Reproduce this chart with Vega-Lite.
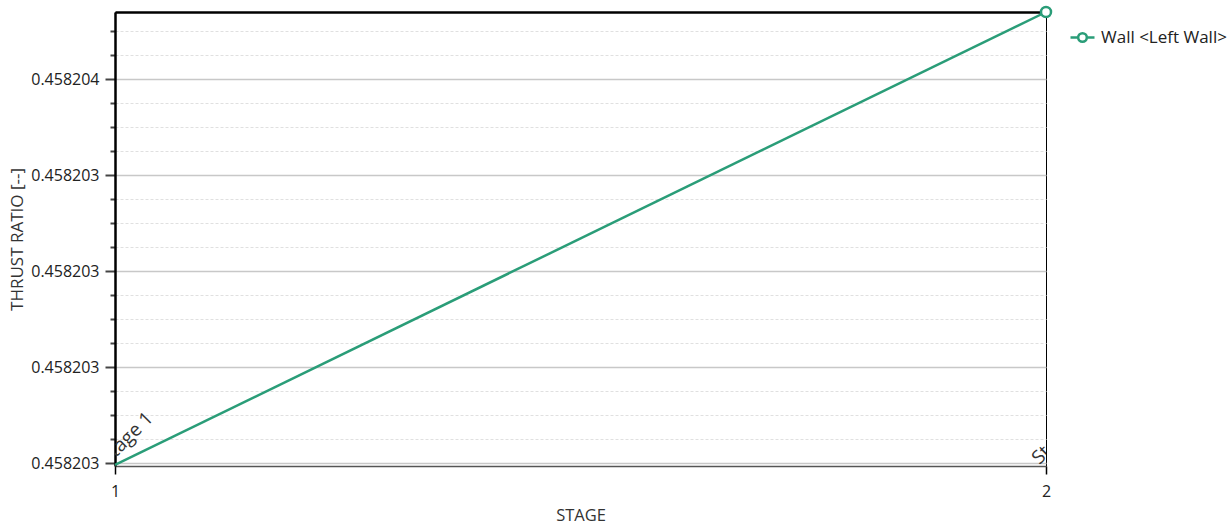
{
  "$schema": "https://vega.github.io/schema/vega-lite/v6.json",
  "width": 931,
  "height": 454,
  "autosize": {"type": "none"},
  "padding": {"left": 115, "top": 12, "right": 186, "bottom": 61},
  "background": "white",
  "config": {"view": {"stroke": "#000", "strokeWidth": 1}, "font": "Open Sans"},
  "datasets": {
    "series": [
      {"stage": 1, "ratio": 0.458203118, "series": "Wall <Left Wall>"},
      {"stage": 2, "ratio": 0.45820359, "series": "Wall <Left Wall>"}
    ],
    "stages": [
      {"stage": 1, "ratio": 0.45820312, "label": "Stage 1"},
      {"stage": 2, "ratio": 0.45820312, "label": "Stage 2"}
    ]
  },
  "encoding": {
    "y": {
      "field": "ratio",
      "type": "quantitative",
      "scale": {"domain": [0.458203116875, 0.45820359], "nice": false, "zero": false},
      "axis": {
        "title": "THRUST RATIO [--]",
        "values": [0.45820312, 0.458203145, 0.45820317, 0.458203195, 0.45820322, 0.458203245, 0.45820327, 0.458203295, 0.45820332, 0.458203345, 0.45820337, 0.458203395, 0.45820342, 0.458203445, 0.45820347, 0.458203495, 0.45820352, 0.458203545, 0.45820357],
        "labelExpr": "round((datum.value-0.45820312)*4e7)%4==0 ? format(datum.value,'.6f') : ''",
        "labelOverlap": false,
        "labelFontSize": 16,
        "labelColor": "#222",
        "labelPadding": 6,
        "tickColor": "#444",
        "tickWidth": 2,
        "tickSize": {"condition": {"test": "round((datum.value-0.45820312)*4e7)%4==0", "value": 10}, "value": 5},
        "grid": true,
        "gridColor": {"condition": {"test": "round((datum.value-0.45820312)*4e7)%4==0", "value": "#c8c8c8"}, "value": "#e0e0e0"},
        "gridDash": {"condition": {"test": "round((datum.value-0.45820312)*4e7)%4==0", "value": []}, "value": [3, 2]},
        "gridWidth": {"condition": {"test": "round((datum.value-0.45820312)*4e7)%4==0", "value": 1.5}, "value": 1},
        "domainColor": "#000",
        "domainWidth": 2.5,
        "titleFontSize": 17,
        "titleFontWeight": "normal",
        "titleColor": "#333",
        "titlePadding": 4
      }
    }
  },
  "layer": [
    {
      "data": {"name": "series"},
      "mark": {"type": "line", "strokeWidth": 2.5},
      "encoding": {
        "x": {
          "field": "stage",
          "type": "quantitative",
          "scale": {"domain": [1, 2], "nice": false, "zero": false},
          "axis": {
            "title": "STAGE",
            "values": [1, 2],
            "format": "d",
            "labelFlush": false,
            "labelFontSize": 16,
            "labelColor": "#222",
            "tickColor": "#000",
            "tickSize": 8,
            "tickWidth": 1.5,
            "labelPadding": 9,
            "domainColor": "#555",
            "domainWidth": 1.5,
            "grid": false,
            "titleFontSize": 16.5,
            "titleFontWeight": "normal",
            "titleColor": "#333",
            "titlePadding": 8
          }
        },
        "color": {
          "field": "series",
          "type": "nominal",
          "scale": {"range": ["#2a9d78"]},
          "legend": {
            "title": null,
            "orient": "none",
            "legendX": 954,
            "legendY": 12,
            "padding": 0,
            "symbolType": "M-1,0H-0.36M0.36,0H1M0.36,0A0.36,0.36,0,1,1,-0.36,0A0.36,0.36,0,1,1,0.36,0",
            "symbolSize": 576,
            "symbolStrokeWidth": 2.5,
            "symbolFillColor": "white",
            "labelFontSize": 17,
            "labelColor": "#222",
            "labelOffset": 5
          }
        }
      }
    },
    {
      "data": {"name": "series"},
      "transform": [{"filter": "datum.stage == 2"}],
      "mark": {"type": "point", "shape": "circle", "filled": true, "fill": "white", "stroke": "#2a9d78", "strokeWidth": 2.5, "size": 100, "opacity": 1},
      "encoding": {
        "x": {
          "field": "stage",
          "type": "quantitative",
          "axis": {"orient": "top", "labels": false, "ticks": false, "title": null, "grid": false, "domainColor": "#000", "domainWidth": 2.5}
        }
      }
    },
    {
      "data": {"name": "stages"},
      "mark": {"type": "text", "angle": -45, "align": "left", "baseline": "alphabetic", "dx": -6.2, "dy": -3, "fontSize": 19, "color": "#333", "clip": true},
      "encoding": {
        "x": {"field": "stage", "type": "quantitative", "axis": null},
        "text": {"field": "label"}
      }
    }
  ],
  "resolve": {"axis": {"x": "independent"}}
}
